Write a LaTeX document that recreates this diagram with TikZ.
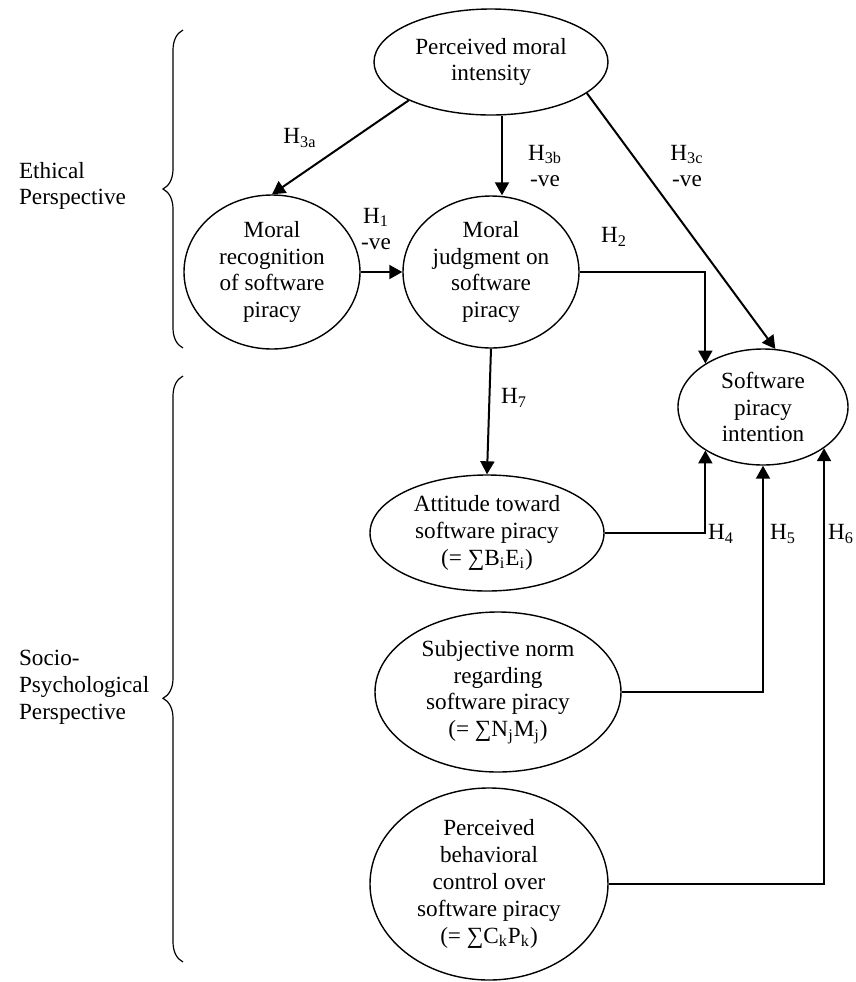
\documentclass[tikz,border=0pt]{standalone}
\usepackage{fontspec}
\setmainfont{Liberation Serif}
\usepackage{tikz}
\usetikzlibrary{positioning}
\usetikzlibrary{arrows.meta}
\usetikzlibrary{shapes.geometric}
\usetikzlibrary{decorations.pathreplacing}
\tikzset{construct/.style = {draw, ellipse, inner sep = 0, align = center, line width = 0.7pt}}
\tikzset{hyp/.style = {line width = 1pt, -{Triangle[length=6.5pt,width=7pt]}}}
\tikzset{persp/.style = {decorate, decoration = {brace, amplitude = 10pt}, line width = 0.6pt}}

\begin{document}
\begin{tikzpicture}[x=0.5pt, y=-0.5pt, font=\fontsize{11.6}{13.4}\selectfont]
    \useasboundingbox (0,0) rectangle (856,982);
    % constructs
    \node[construct, minimum width=117pt, minimum height=53pt] (pmi) at (491,62) {Perceived moral\\intensity};
    \node[construct, minimum width=88pt, minimum height=77pt] (mrec) at (272,272) {Moral\\recognition\\of software\\piracy};
    \node[construct, minimum width=88pt, minimum height=76pt] (mjud) at (491,272) {Moral\\judgment on\\software\\piracy};
    \node[construct, minimum width=85pt, minimum height=58pt] (spi) at (763,407) {Software\\piracy\\intention};
    \node[construct, minimum width=117pt, minimum height=58pt] (att) at (487,533) {Attitude toward\\software piracy\\(= ∑B\textsubscript{i}E\textsubscript{i})};
    \node[construct, minimum width=123pt, minimum height=80pt] (sn) at (498,692) {Subjective norm\\regarding\\software piracy\\(= ∑N\textsubscript{j}M\textsubscript{j})};
    \node[construct, minimum width=119pt, minimum height=96pt] (pbc) at (489,884) {Perceived\\behavioral\\control over\\software piracy\\(= ∑C\textsubscript{k}P\textsubscript{k})};
    % hypotheses
    \draw[hyp] (pmi.205) -- (mrec.north);
    \draw[hyp] ([xshift=5.5pt]pmi.south) -- ([xshift=5.5pt]mjud.north);
    \draw[hyp] (pmi.-18) -- (spi.78);
    \draw[hyp] (mrec.east) -- (mjud.west);
    \draw[hyp] (mjud.east) -| (spi.143);
    \draw[hyp] (mjud.south) -- (att.north);
    \draw[hyp] (att.east) -| (spi.217);
    \draw[hyp] (sn.east) -| (spi.south);
    \draw[hyp] (pbc.east) -| (spi.-34);
    \node (h3a) at (300,138) {H\textsubscript{3a}};
    \node[align=center] (h3b) at (545,166) {H\textsubscript{3b}\\-ve};
    \node[align=center] (h3c) at (687,166) {H\textsubscript{3c}\\-ve};
    \node[align=center] (h1) at (376,229) {H\textsubscript{1}\\-ve};
    \node (h2) at (614,237) {H\textsubscript{2}};
    \node (h7) at (514,398) {H\textsubscript{7}};
    \node (h4) at (721,534) {H\textsubscript{4}};
    \node (h5) at (783,534) {H\textsubscript{5}};
    \node (h6) at (841,534) {H\textsubscript{6}};
    % perspectives
    \coordinate (e1) at (183,348);
    \coordinate (e2) at (183,30);
    \coordinate (s1) at (183,962);
    \coordinate (s2) at (183,376);
    \draw[persp] (e1) -- (e2);
    \draw[persp, decoration = {aspect = 0.45}] (s1) -- (s2);
    \node[align=left, anchor=west] (eth) at (12,186) {Ethical\\Perspective};
    \node[align=left, anchor=west] (soc) at (12,687) {Socio-\\Psychological\\Perspective};
\end{tikzpicture}
\end{document}
